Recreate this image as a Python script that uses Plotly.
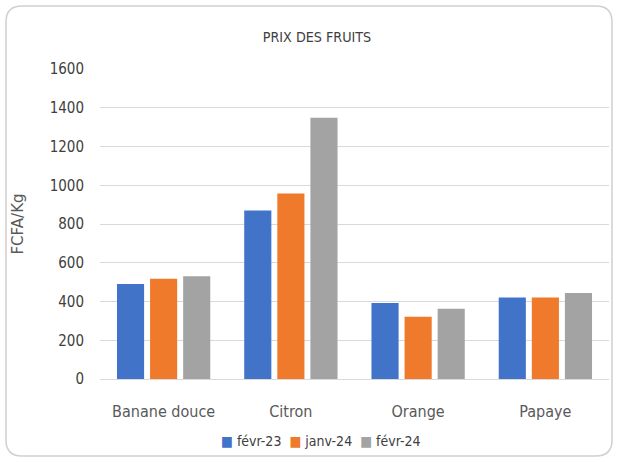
import plotly.graph_objects as go

categories = ["Banane douce", "Citron", "Orange", "Papaye"]
series_names = ["févr-23", "janv-24", "févr-24"]
feb23 = [490, 870, 392, 421]
jan24 = [518, 957, 321, 421]
feb24 = [530, 1349, 363, 444]
tick_vals = [0, 200, 400, 600, 800, 1000, 1200, 1400, 1600]

colors = ["#4173C9", "#EF7A2C", "#A3A3A3"]
values = [feb23, jan24, feb24]

fig = go.Figure()
for name, vals, col in zip(series_names, values, colors):
    fig.add_trace(go.Bar(
        x=categories, y=vals, name=name, showlegend=False,
        marker=dict(color=col, line=dict(width=0)),
    ))

font_main = "DejaVu Sans Condensed, Open Sans, sans-serif"
W, H = 618, 462
ml, mr, mt, mb = 100, 9, 69, 83

def px_to_paper_x(px):
    return (px - ml) / (W - ml - mr)

def px_to_paper_y(py):
    return (H - mb - py) / (H - mt - mb)

# rounded border path in paper coordinates
x0, x1 = px_to_paper_x(6), px_to_paper_x(612)
y0, y1 = px_to_paper_y(456), px_to_paper_y(6)
rx = 16 / (W - ml - mr)
ry = 16 / (H - mt - mb)
path = (f"M {x0+rx},{y1} L {x1-rx},{y1} Q {x1},{y1} {x1},{y1-ry} "
        f"L {x1},{y0+ry} Q {x1},{y0} {x1-rx},{y0} L {x0+rx},{y0} "
        f"Q {x0},{y0} {x0},{y0+ry} L {x0},{y1-ry} Q {x0},{y1} {x0+rx},{y1} Z")

legend_text = "  ".join(
    f"<span style='color:{c}'>■</span> {n}" for n, c in zip(series_names, colors)
)

fig.update_layout(
    width=W, height=H,
    margin=dict(l=ml, r=mr, t=mt, b=mb),
    paper_bgcolor="white", plot_bgcolor="white",
    barmode="group", bargap=0.22, bargroupgap=0.18,
    title=dict(text="PRIX DES FRUITS", x=317 / W, xanchor="center", y=1 - 37 / H, yanchor="middle",
               font=dict(family=font_main, size=14.2, color="#404040")),
    font=dict(family=font_main, color="#404040"),
    xaxis=dict(showgrid=False, showline=False, ticks="",
               tickfont=dict(size=16, color="#595959"), ticklabelstandoff=21,
               automargin=False),
    yaxis=dict(range=[0, 1600], tickvals=tick_vals, showgrid=True, gridcolor="#D9D9D9",
               gridwidth=1.3, zeroline=True, zerolinecolor="#D9D9D9", zerolinewidth=1.3,
               showline=False, ticks="", tickfont=dict(size=15, color="#404040"),
               ticklabelstandoff=15,
               title=dict(text="FCFA/Kg", font=dict(family="DejaVu Sans", size=15, color="#595959"),
                          standoff=22), automargin=False),
    showlegend=False,
    annotations=[dict(text=legend_text, xref="paper", yref="paper",
                      x=px_to_paper_x(321), y=px_to_paper_y(441), xanchor="center", yanchor="middle",
                      showarrow=False, font=dict(family=font_main, size=14, color="#404040"))],
    shapes=[dict(type="path", path=path, xref="paper", yref="paper",
                 line=dict(color="#D0D0D0", width=1.5), fillcolor="rgba(0,0,0,0)", layer="below")],
)

fig.write_html("out.html", post_script="document.body.style.margin='0';",
               config={"displayModeBar": False})
